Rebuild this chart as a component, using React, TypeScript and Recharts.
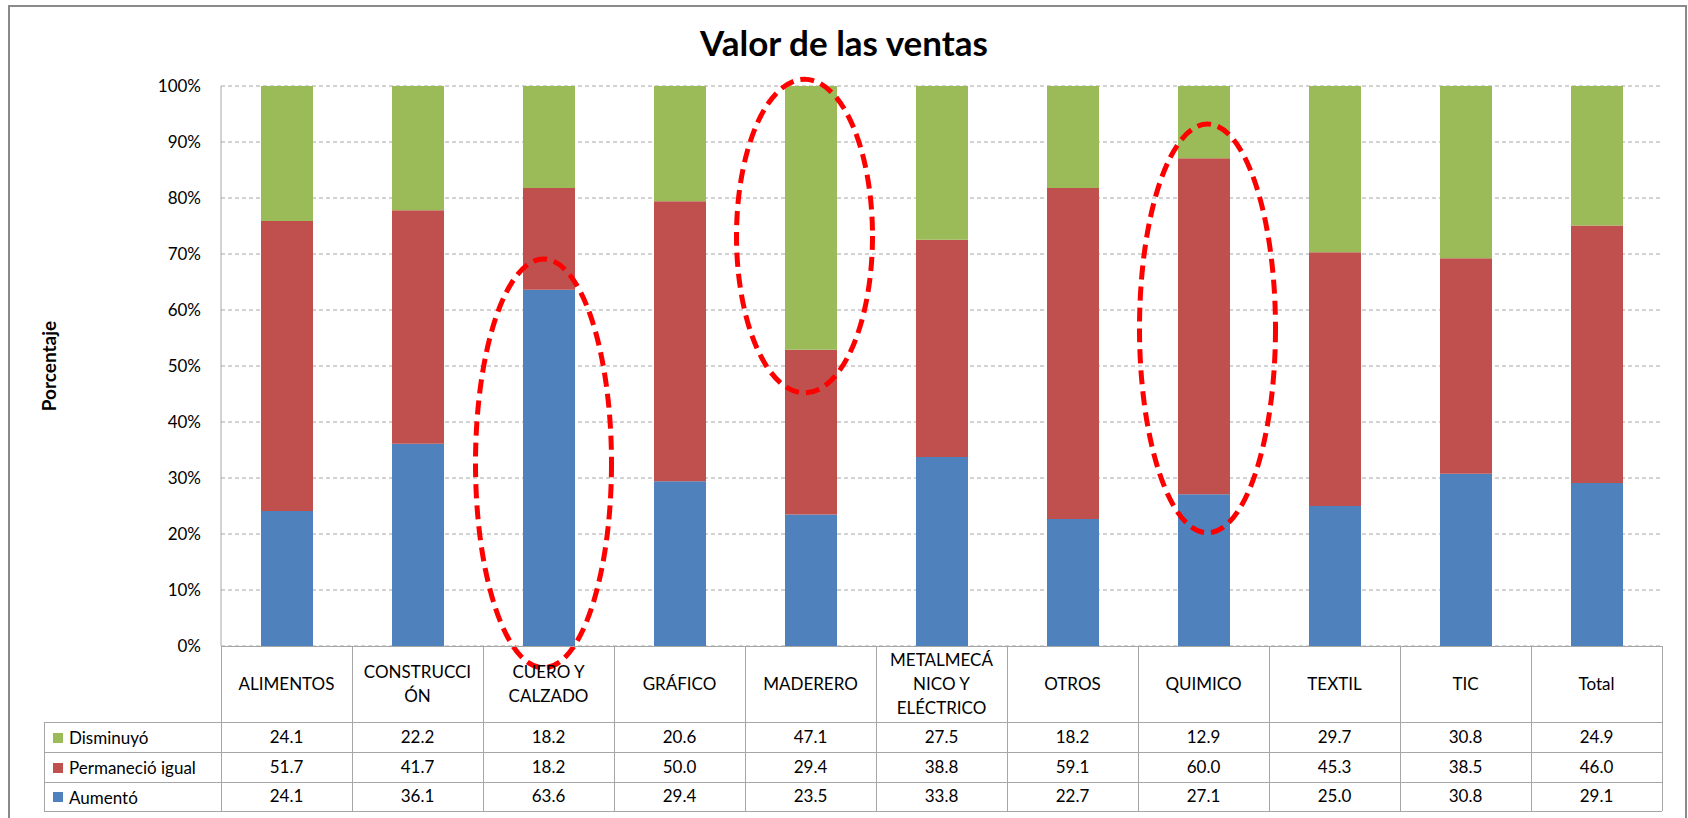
import React from 'react';
import { BarChart, Bar, XAxis, YAxis, CartesianGrid, Legend, ReferenceDot } from 'recharts';

const categories = [
  'ALIMENTOS',
  'CONSTRUCCIÓN',
  'CUERO Y CALZADO',
  'GRÁFICO',
  'MADERERO',
  'METALMECÁNICO Y ELÉCTRICO',
  'OTROS',
  'QUIMICO',
  'TEXTIL',
  'TIC',
  'Total',
];

// header cells wrap like the original table
const headerLines = [
  ['ALIMENTOS'],
  ['CONSTRUCCI', 'ÓN'],
  ['CUERO Y', 'CALZADO'],
  ['GRÁFICO'],
  ['MADERERO'],
  ['METALMECÁ', 'NICO Y', 'ELÉCTRICO'],
  ['OTROS'],
  ['QUIMICO'],
  ['TEXTIL'],
  ['TIC'],
  ['Total'],
];

const disminuyo = [24.1, 22.2, 18.2, 20.6, 47.1, 27.5, 18.2, 12.9, 29.7, 30.8, 24.9];
const permanecio = [51.7, 41.7, 18.2, 50.0, 29.4, 38.8, 59.1, 60.0, 45.3, 38.5, 46.0];
const aumento = [24.1, 36.1, 63.6, 29.4, 23.5, 33.8, 22.7, 27.1, 25.0, 30.8, 29.1];

// table / legend rows, top to bottom
const rowNames = ['Disminuyó', 'Permaneció igual', 'Aumentó'];

const yTicks = [0, 0.1, 0.2, 0.3, 0.4, 0.5, 0.6, 0.7, 0.8, 0.9, 1];

// red dashed ellipses drawn over some bars (center and half height as share of the axis)
const circled = ['CUERO Y CALZADO', 'MADERERO', 'QUIMICO'];
const circledMid = [0.326, 0.732, 0.567];
const circledHalf = [0.365, 0.28, 0.365];
const circledShift = [-5, -6, 4];

const COLORS = { aumento: '#4F81BD', permanecio: '#C0504D', disminuyo: '#9BBB59' };

const W = 1688;
const H = 818;
const MARGIN = { top: 86, right: 26, bottom: 0, left: 20 };
const Y_AXIS_W = 201;
const X_AXIS_H = 172;
const PLOT_W = W - MARGIN.left - MARGIN.right - Y_AXIS_W;
const PLOT_H = H - MARGIN.top - MARGIN.bottom - X_AXIS_H;
const COL_W = PLOT_W / categories.length;
const HEADER_H = 76;
const ROW_H = [30, 30, 29];
const LINE = '#a6a6a6';
const FONT = 'Lato, "Open Sans", sans-serif';

const data = categories.map((name, i) => ({
  name,
  aumento: aumento[i],
  permanecio: permanecio[i],
  disminuyo: disminuyo[i],
}));

const TableColumn = (props: any) => {
  const { x, y, payload } = props;
  const i = categories.indexOf(payload.value);
  const left = x - COL_W / 2;
  const right = x + COL_W / 2;
  const values = [disminuyo[i], permanecio[i], aumento[i]];
  const lines = headerLines[i];
  const lh = 24;
  const headMid = y + HEADER_H / 2;
  const tableH = HEADER_H + ROW_H.reduce((a, b) => a + b, 0);
  let rowTop = y + HEADER_H;
  const rows = values.map((v, k) => {
    const top = rowTop;
    rowTop += ROW_H[k];
    return { v, top, mid: top + ROW_H[k] / 2 };
  });
  return (
    <g>
      <g shapeRendering="crispEdges">
        <line x1={left} y1={y} x2={left} y2={y + tableH} stroke={LINE} />
        {i === categories.length - 1 && (
          <line x1={right} y1={y} x2={right} y2={y + tableH} stroke={LINE} />
        )}
        <line x1={left} y1={y} x2={right} y2={y} stroke={LINE} />
        {rows.map((r, k) => (
          <line key={`l${k}`} x1={left} y1={r.top} x2={right} y2={r.top} stroke={LINE} />
        ))}
        <line x1={left} y1={y + tableH} x2={right} y2={y + tableH} stroke={LINE} />
      </g>
      {lines.map((t, k) => (
        <text
          key={`h${k}`}
          x={x}
          y={headMid + (k - (lines.length - 1) / 2) * lh}
          dy="0.35em"
          textAnchor="middle"
          fontSize={17}
          fill="#000"
        >
          {t}
        </text>
      ))}
      {rows.map((r, k) => (
        <text key={`v${k}`} x={x} y={r.mid} dy="0.35em" textAnchor="middle" fontSize={17} fill="#000">
          {r.v.toFixed(1)}
        </text>
      ))}
    </g>
  );
};

const LegendColumn = (props: any) => {
  const payload = props.payload || [];
  const items = rowNames
    .map((n) => payload.find((p: any) => p.value === n))
    .filter(Boolean);
  return (
    <div style={{ width: 177, fontFamily: FONT, fontSize: 17, color: '#000' }}>
      {items.map((item: any, k: number) => (
        <div
          key={item.value}
          style={{
            height: ROW_H[k] - 1,
            borderTop: `1px solid ${LINE}`,
            borderLeft: `1px solid ${LINE}`,
            borderBottom: k === items.length - 1 ? `1px solid ${LINE}` : 'none',
            display: 'flex',
            alignItems: 'center',
            whiteSpace: 'nowrap',
          }}
        >
          <span
            style={{
              display: 'inline-block',
              width: 10,
              height: 10,
              background: item.color,
              marginLeft: 8,
              marginRight: 6,
            }}
          />
          {item.value}
        </div>
      ))}
    </div>
  );
};

const ellipseShape = (k: number) => (p: any) => (
  <ellipse
    cx={p.cx + circledShift[k]}
    cy={p.cy}
    rx={68}
    ry={circledHalf[k] * PLOT_H}
    fill="none"
    stroke="#ff0000"
    strokeWidth={5}
    strokeDasharray="14 7"
  />
);

const App: React.FC = () => {
  return (
    <div
      style={{
        position: 'absolute',
        left: 0,
        top: 0,
        width: W,
        height: H,
        overflow: 'hidden',
        background: '#fff',
        fontFamily: FONT,
      }}
    >
      <div
        style={{
          position: 'absolute',
          left: 8,
          top: 5,
          width: 1679,
          height: H - 5,
          border: '2px solid #8a8a8a',
          borderBottom: 'none',
          boxSizing: 'border-box',
        }}
      />
      <div
        style={{
          position: 'absolute',
          left: 0,
          top: 22,
          width: W,
          textAlign: 'center',
          fontSize: 35,
          fontWeight: 'bold',
          color: '#000',
          lineHeight: '40px',
        }}
      >
        Valor de las ventas
      </div>
      <BarChart
        width={W}
        height={H}
        data={data}
        margin={MARGIN}
        stackOffset="expand"
        style={{ position: 'absolute', left: 0, top: 0 }}
      >
        <CartesianGrid vertical={false} stroke={LINE} strokeDasharray="4 3" />
        <XAxis
          dataKey="name"
          interval={0}
          height={X_AXIS_H}
          axisLine={false}
          tickLine={false}
          tickSize={0}
          tickMargin={0}
          tick={(p: any) => <TableColumn {...p} />}
        />
        <YAxis
          width={Y_AXIS_W}
          domain={[0, 1]}
          ticks={yTicks}
          tickFormatter={(v: number) => `${Math.round(v * 100)}%`}
          axisLine={{ stroke: LINE }}
          tickLine={false}
          tickSize={0}
          tickMargin={20}
          tick={{ fontSize: 17, fill: '#000' }}
          label={{
            value: 'Porcentaje',
            angle: -90,
            position: 'insideLeft',
            offset: 29,
            fontSize: 19,
            fontWeight: 'bold',
            fill: '#000',
            style: { textAnchor: 'middle', fontSize: 19, fontWeight: 'bold' },
          }}
        />
        <Legend
          layout="vertical"
          align="center"
          verticalAlign="middle"
          content={<LegendColumn />}
          wrapperStyle={{ left: 44, top: MARGIN.top + PLOT_H + HEADER_H, width: 177 }}
        />
        <Bar dataKey="aumento" name="Aumentó" stackId="s" fill={COLORS.aumento} barSize={52} isAnimationActive={false} />
        <Bar dataKey="permanecio" name="Permaneció igual" stackId="s" fill={COLORS.permanecio} barSize={52} isAnimationActive={false} />
        <Bar dataKey="disminuyo" name="Disminuyó" stackId="s" fill={COLORS.disminuyo} barSize={52} isAnimationActive={false} />
        {circled.map((c, k) => (
          <ReferenceDot
            key={c}
            x={c}
            y={circledMid[k]}
            r={1}
            ifOverflow="visible"
            shape={ellipseShape(k)}
          />
        ))}
      </BarChart>
    </div>
  );
};

export default App;
